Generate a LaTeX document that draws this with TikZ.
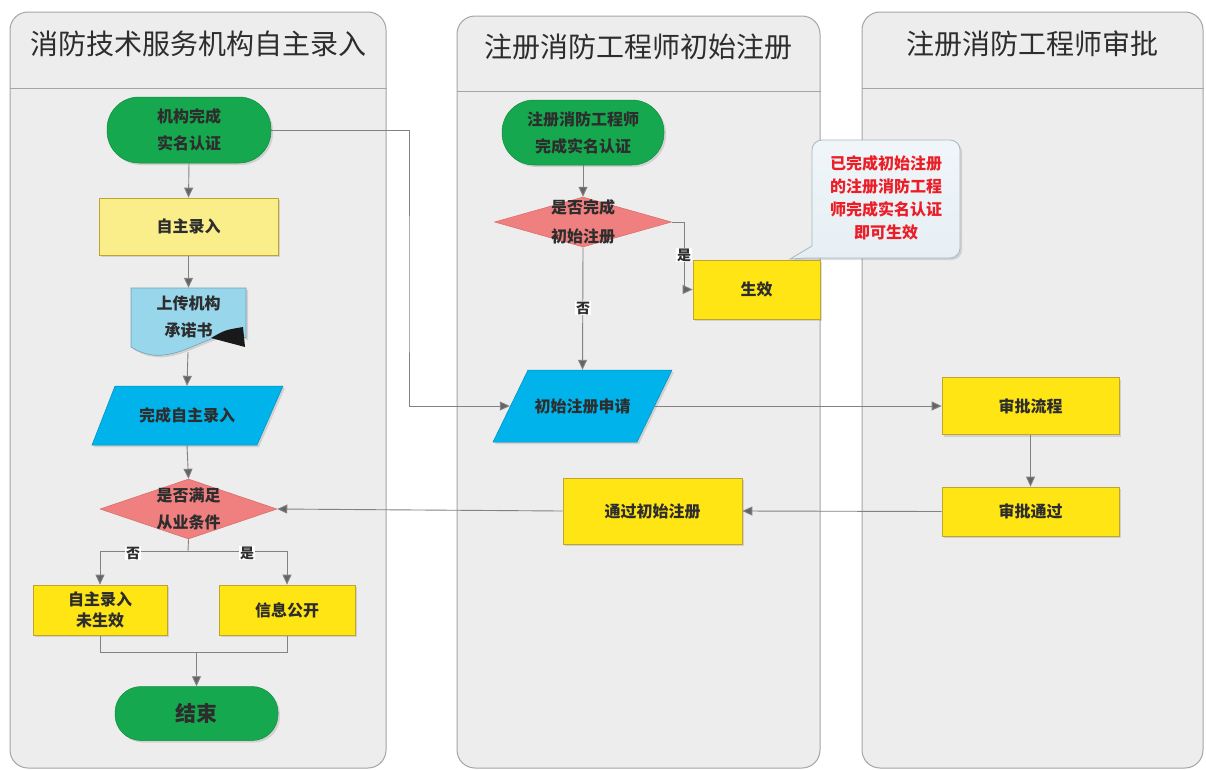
\documentclass[tikz,border=0pt]{standalone}
\usepackage{fontspec}
\setmainfont{Noto Sans CJK SC}
\usetikzlibrary{shapes.geometric,arrows.meta,shadows}
\definecolor{lanefill}{RGB}{237,237,237}
\definecolor{lanedraw}{RGB}{165,165,165}
\definecolor{termgreen}{RGB}{22,168,78}
\definecolor{termedge}{RGB}{18,140,64}
\definecolor{boxyellow}{RGB}{255,229,20}
\definecolor{boxedge}{RGB}{190,165,45}
\definecolor{lightyellow}{RGB}{250,238,138}
\definecolor{docblue}{RGB}{152,214,236}
\definecolor{docedge}{RGB}{120,160,180}
\definecolor{iocyan}{RGB}{0,180,235}
\definecolor{ioedge}{RGB}{0,140,190}
\definecolor{decpink}{RGB}{240,128,128}
\definecolor{decedge}{RGB}{215,105,105}
\definecolor{linegrey}{RGB}{130,130,130}
\definecolor{tipgrey}{RGB}{100,100,100}
\definecolor{txtgrey}{RGB}{45,45,45}
\definecolor{calloutfill}{RGB}{230,239,244}
\definecolor{calloutedge}{RGB}{165,185,196}
\definecolor{calloutred}{RGB}{235,30,40}
\pgfdeclarelayer{lanes}
\pgfdeclarelayer{edges}
\pgfsetlayers{lanes,edges,main}
\begin{document}
\begin{tikzpicture}[x=1pt,y=-1pt,
  lane/.style={rectangle, rounded corners=18pt, draw=lanedraw, fill=lanefill, line width=1pt},
  lanetitle/.style={text=txtgrey, font=\fontsize{28}{32}\selectfont},
  ntext/.style={text=txtgrey, font=\bfseries\fontsize{16}{27}\selectfont, align=center},
  shade/.style={drop shadow={shadow xshift=2pt, shadow yshift=-2pt, opacity=0.25}},
  term/.style={ntext, rectangle, fill=termgreen, draw=termedge, line width=0.5pt, shade},
  ybox/.style={ntext, rectangle, fill=boxyellow, draw=boxedge, line width=0.7pt, shade},
  decision/.style={diamond, fill=decpink, draw=decedge, line width=0.5pt, inner sep=0pt},
  conn/.style={draw=linegrey, line width=0.9pt},
  arr/.style={conn, -{Triangle[length=10pt,width=9pt,fill=tipgrey]}},
  lbl/.style={text=txtgrey, font=\bfseries\fontsize{14}{16}\selectfont, fill=white, inner sep=1pt}
]
\useasboundingbox (0,0) rectangle (1206,769);

% ---------- lanes ----------
\begin{pgfonlayer}{lanes}
\fill[white] (0,0) rectangle (1206,769);
\node[lane, minimum width=376, minimum height=756] (L1) at (198,390) {};
\node[lane, minimum width=363, minimum height=752] (L2) at (638.5,392) {};
\node[lane, minimum width=341, minimum height=756] (L3) at (1032.5,390) {};
\draw[draw=lanedraw, line width=1pt] (L1.west |- 0,88) -- (L1.east |- 0,88);
\draw[draw=lanedraw, line width=1pt] (L2.west |- 0,91) -- (L2.east |- 0,91);
\draw[draw=lanedraw, line width=1pt] (L3.west |- 0,88) -- (L3.east |- 0,88);
\end{pgfonlayer}
\node[lanetitle] (t1) at (198,44) {消防技术服务机构自主录入};
\node[lanetitle] (t2) at (638.5,47) {注册消防工程师初始注册};
\node[lanetitle] (t3) at (1032.5,44) {注册消防工程师审批};

% ---------- lane 1 ----------
\node[term, minimum width=164, minimum height=66, rounded corners=32pt] (n1) at (189,130) {机构完成\\实名认证};
\node[ybox, fill=lightyellow, minimum width=179, minimum height=57] (n2) at (188.5,226.5) {自主录入};
% document shape
\filldraw[fill=docblue, draw=docedge, line width=0.6pt, shade]
  (131,288) -- (246,288) -- (246,338) .. controls (210,322) and (175,375) .. (131,347) -- cycle;
\fill[black!90] (211,338) .. controls (225,330) .. (243,327) -- (245,347) -- cycle;
\node[ntext, minimum width=115, minimum height=58] (n3) at (188.5,317) {上传机构\\承诺书};
\coordinate (n3b) at (188,352);
% parallelogram
\filldraw[fill=iocyan, draw=ioedge, line width=0.5pt, shade]
  (115,386) -- (283,386) -- (257,445) -- (92,445) -- cycle;
\node[ntext, minimum width=166, minimum height=59] (n4) at (187,415.5) {完成自主录入};
\node[decision, minimum width=177, minimum height=60,
  label={[ntext]center:是否满足\\从业条件}] (n5) at (188.5,509) {};
\node[ybox, minimum width=134, minimum height=50, font=\bfseries\fontsize{16}{21}\selectfont] (n6) at (100,610) {自主录入\\未生效};
\node[ybox, minimum width=136, minimum height=50] (n7) at (287,610) {信息公开};
\node[term, minimum width=163, minimum height=54, rounded corners=26pt, font=\bfseries\fontsize{21}{24}\selectfont] (n8) at (196.5,713.5) {结束};
\coordinate (br) at (188,551);
\coordinate (mg) at (196.5,652);

% ---------- lane 2 ----------
\node[term, minimum width=162, minimum height=65, rounded corners=32pt] (m1) at (583,132.5) {注册消防工程师\\完成实名认证};
\node[decision, minimum width=177, minimum height=50,
  label={[ntext, font=\bfseries\fontsize{16}{29}\selectfont]center:是否完成\\初始注册}] (m2) at (583,222) {};
\node[ybox, minimum width=127, minimum height=59] (m3) at (756.5,289.5) {生效};
\filldraw[fill=iocyan, draw=ioedge, line width=0.5pt, shade]
  (528,370) -- (672,370) -- (637,442) -- (493,442) -- cycle;
\node[ntext, minimum width=145, minimum height=72] (m4) at (582.5,406) {初始注册申请};
\node[ybox, minimum width=179, minimum height=66] (m5) at (652.5,511) {通过初始注册};
\coordinate (j1) at (409,300);
\coordinate (j2) at (684,250);

% callout
\shade[top color=calloutfill!60!white, bottom color=calloutfill, draw=calloutedge, line width=0.8pt]
  (790,259) -- (812,246) {[rounded corners=10pt] -- (812,140) -- (960,140) -- (960,258)} -- (806,258) -- cycle;
\node[text=calloutred, font=\bfseries\fontsize{16}{23}\selectfont, align=center] (c1) at (886,198) {已完成初始注册\\的注册消防工程\\师完成实名认证\\即可生效};

% ---------- lane 3 ----------
\node[ybox, minimum width=177, minimum height=57] (k1) at (1030.5,406) {审批流程};
\node[ybox, minimum width=177, minimum height=49] (k2) at (1030.5,511.5) {审批通过};

% ---------- connectors ----------
\begin{pgfonlayer}{edges}
\draw[arr] (n1.south) -- (n2.north);
\draw[arr] (n2.south) -- (n3.north);
\draw[arr] (n3b) -- (n4.north);
\draw[arr] (n4.south) -- (n5.north);
\draw[conn] (n5.south) -- (br);
\draw[arr] (br) -| (n6.north);
\draw[arr] (br) -| (n7.north);
\draw[conn] (n6.south) |- (mg);
\draw[conn] (n7.south) |- (mg);
\draw[arr] (mg) -- (n8.north);
\draw[arr] (n1.east) -| (j1) |- (m4.west);
\draw[arr] (m1.south) -- (m2.north);
\draw[arr] (m2.east) -| (j2) |- (m3.west);
\draw[arr] (m2.south) -- (m4.north);
\draw[arr] (m4.east) -- (k1.west);
\draw[arr] (k1.south) -- (k2.north);
\draw[arr] (k2.west) -- (m5.east);
\draw[arr] (m5.west) -- (n5.east);
\end{pgfonlayer}
\node[lbl] (l1) at (133,553) {否};
\node[lbl] (l2) at (247,553) {是};
\node[lbl] (l3) at (684,255) {是};
\node[lbl] (l4) at (583,308) {否};
\end{tikzpicture}
\end{document}
